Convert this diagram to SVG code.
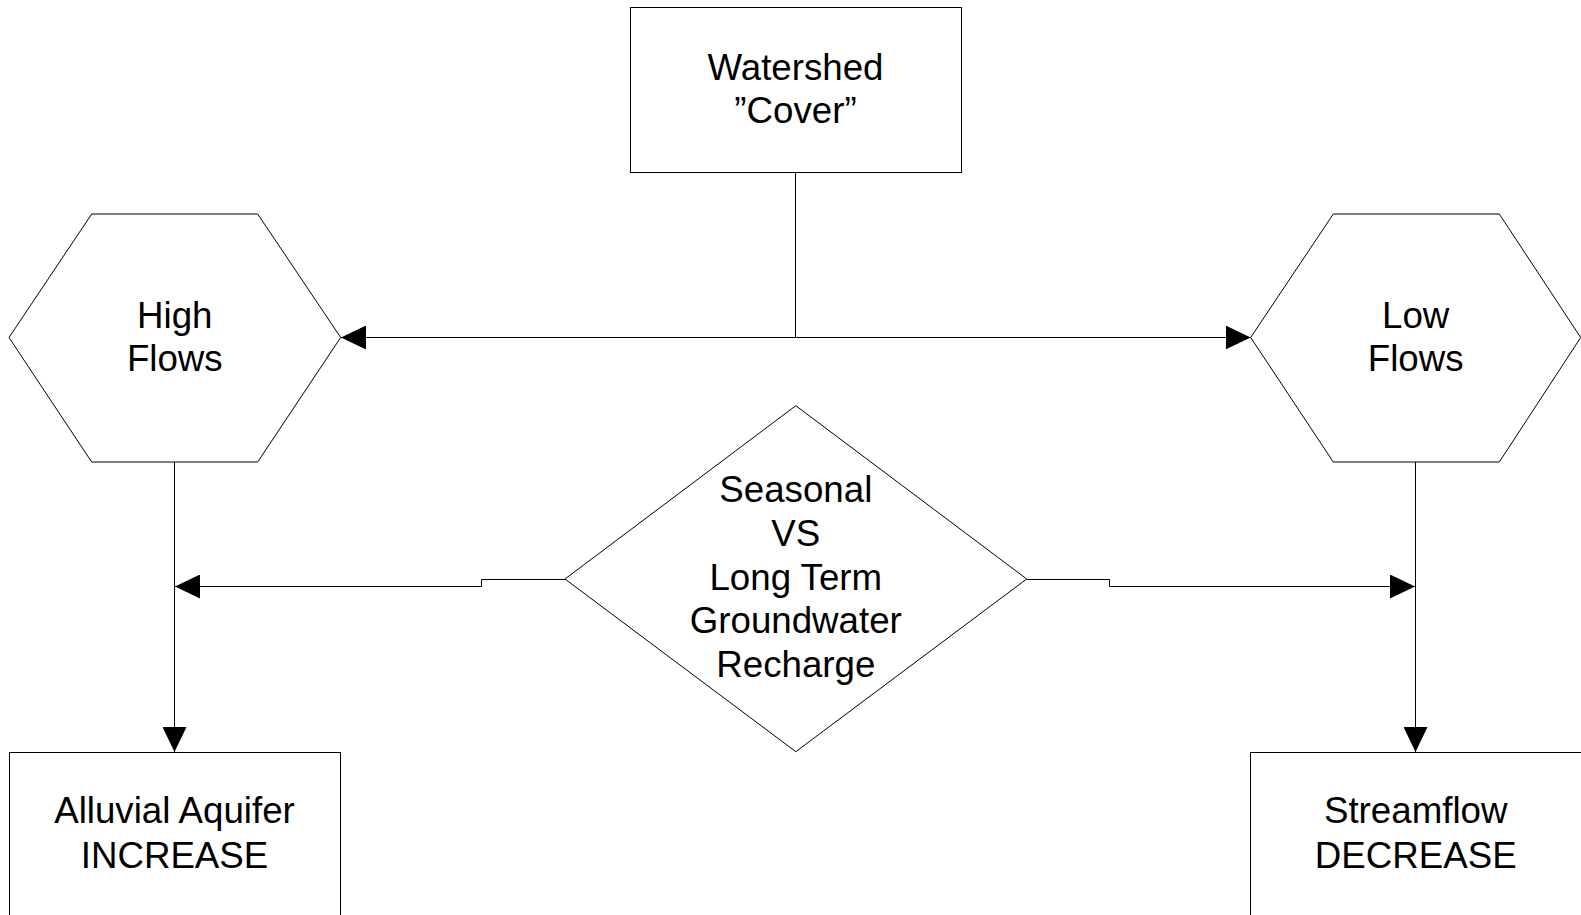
<svg xmlns="http://www.w3.org/2000/svg" width="1581" height="915" viewBox="0 0 1581 915">
<style>
.shape{fill:#fff;stroke:#000;stroke-width:1}
.conn{fill:none;stroke:#000;stroke-width:1}
.lbl{font-family:"Liberation Sans",Arial,sans-serif;font-size:36.7px;fill:#000;text-anchor:middle}
</style>
<defs>
<marker id="arr" markerWidth="25" markerHeight="24" refX="25" refY="12" orient="auto" markerUnits="userSpaceOnUse">
<path d="M0,0 L25,12 L0,24 Z" fill="#000"/>
</marker>
</defs>
<rect width="1581" height="915" fill="#fff"/>
<g id="connectors">
<path class="conn" d="M795.5,172.5 V337.5 H341" marker-end="url(#arr)"/>
<path class="conn" d="M795.5,337.5 H1250.7" marker-end="url(#arr)"/>
<path class="conn" d="M174.5,462 V752" marker-end="url(#arr)"/>
<path class="conn" d="M1415.5,462 V752" marker-end="url(#arr)"/>
<path class="conn" d="M565,579.5 H481.5 V586.5 H175" marker-end="url(#arr)"/>
<path class="conn" d="M1026.7,579.5 H1109.5 V586.5 H1415" marker-end="url(#arr)"/>
</g>
<g id="watershed">
<rect class="shape" x="630.5" y="7.5" width="331" height="165"/>
<text class="lbl" x="795.5" y="80">Watershed</text>
<text class="lbl" x="795.5" y="123">”Cover”</text>
</g>
<g id="high-flows">
<polygon class="shape" points="91.7,214 257.7,214 340.7,337.5 257.7,462 91.7,462 9,337.5"/>
<text class="lbl" x="174.8" y="328">High</text>
<text class="lbl" x="174.8" y="371">Flows</text>
</g>
<g id="low-flows">
<polygon class="shape" points="1333.3,214 1499.3,214 1580.7,337.5 1499.3,462 1333.3,462 1250.7,337.5"/>
<text class="lbl" x="1415.7" y="328">Low</text>
<text class="lbl" x="1415.7" y="371">Flows</text>
</g>
<g id="recharge">
<polygon class="shape" points="795.8,405.7 1026.7,579 795.8,751.7 565,579"/>
<text class="lbl" x="795.8" y="501.7">Seasonal</text>
<text class="lbl" x="795.8" y="545.7">VS</text>
<text class="lbl" x="795.8" y="589.6">Long Term</text>
<text class="lbl" x="795.8" y="633.4">Groundwater</text>
<text class="lbl" x="795.8" y="677.3">Recharge</text>
</g>
<g id="aquifer">
<rect class="shape" x="9.5" y="752.5" width="331" height="200"/>
<text class="lbl" x="174.5" y="823">Alluvial Aquifer</text>
<text class="lbl" x="174.5" y="867.7">INCREASE</text>
</g>
<g id="streamflow">
<rect class="shape" x="1250.5" y="752.5" width="331" height="200"/>
<text class="lbl" x="1415.7" y="823">Streamflow</text>
<text class="lbl" x="1415.7" y="867.7">DECREASE</text>
</g>
</svg>
